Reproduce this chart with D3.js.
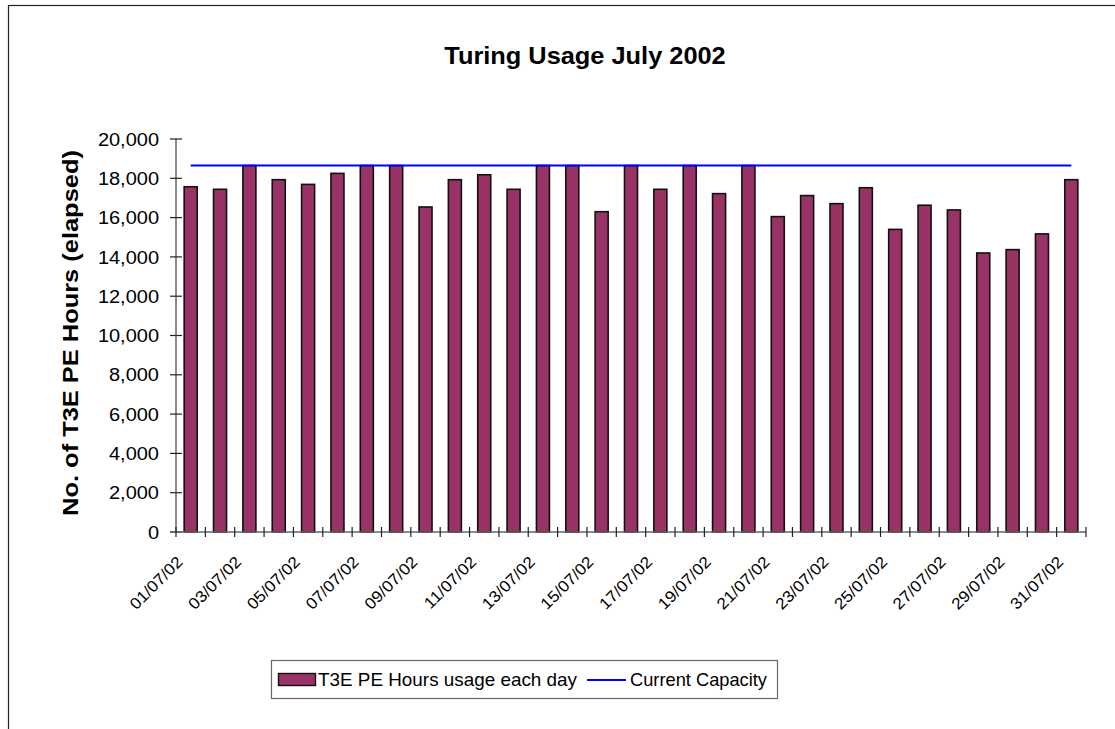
<!DOCTYPE html>
<html>
<head>
<meta charset="utf-8">
<script src="https://cdn.jsdelivr.net/npm/d3@7"></script>
<style>
  html, body { margin: 0; padding: 0; background: #fff; }
  svg { display: block; font-family: "Liberation Sans", Arial, Helvetica, sans-serif; }
</style>
</head>
<body>
<svg id="chart" width="1115" height="729"></svg>
<script>
// ---- data ----
const titleText = "Turing Usage July 2002";
const yLabelText = "No. of T3E PE Hours (elapsed)";
const seriesBarName = "T3E PE Hours usage each day";
const seriesLineName = "Current Capacity";
const dates = ["01/07/02","02/07/02","03/07/02","04/07/02","05/07/02","06/07/02","07/07/02","08/07/02",
  "09/07/02","10/07/02","11/07/02","12/07/02","13/07/02","14/07/02","15/07/02","16/07/02",
  "17/07/02","18/07/02","19/07/02","20/07/02","21/07/02","22/07/02","23/07/02","24/07/02",
  "25/07/02","26/07/02","27/07/02","28/07/02","29/07/02","30/07/02","31/07/02"];
const usage = [17570, 17440, 18650, 17930, 17690, 18250, 18650, 18650,
  16540, 17930, 18180, 17440, 18650, 18650, 16300, 18650,
  17440, 18650, 17220, 18650, 16050, 17120, 16710, 17520,
  15400, 16630, 16390, 14200, 14370, 15170, 17930];
const capacity = 18650;
const yTicks = [0, 2000, 4000, 6000, 8000, 10000, 12000, 14000, 16000, 18000, 20000];
const xLabelDates = ["01/07/02","03/07/02","05/07/02","07/07/02","09/07/02","11/07/02","13/07/02","15/07/02",
  "17/07/02","19/07/02","21/07/02","23/07/02","25/07/02","27/07/02","29/07/02","31/07/02"];

// ---- layout ----
const svg = d3.select("#chart");
const plot = { left: 176, right: 1086, top: 139, bottom: 532 };
const barColor = "#993366";
const lineColor = "#0000ff";
const sx = 1.08; // horizontal glyph stretch of the reference's font

// outer chart border
svg.append("rect").attr("x", 8.5).attr("y", 5.5).attr("width", 1300).attr("height", 900)
  .attr("fill", "none").attr("stroke", "#222").attr("stroke-width", 1.2);

const x = d3.scaleBand().domain(dates).range([plot.left, plot.right])
  .paddingInner(0.557).paddingOuter(0.2785);
const y = d3.scaleLinear().domain([0, 20000]).range([plot.bottom, plot.top]);
const cx = d => x(d) + x.bandwidth() / 2;

// title
svg.append("g").attr("transform", `translate(585,64) scale(${sx},1)`)
  .append("text").attr("text-anchor", "middle").attr("font-weight", "bold")
  .attr("font-size", 23.5).attr("fill", "#000").text(titleText);

// y axis label
svg.append("g").attr("transform", `translate(78,333) rotate(-90) scale(1.13,1)`)
  .append("text").attr("text-anchor", "middle").attr("font-weight", "bold")
  .attr("font-size", 22.5).attr("fill", "#000").text(yLabelText);

// bars
svg.append("g").selectAll("rect").data(dates).join("rect")
  .attr("x", d => x(d))
  .attr("y", (d, i) => y(usage[i]))
  .attr("width", x.bandwidth())
  .attr("height", (d, i) => y(0) - y(usage[i]))
  .attr("fill", barColor).attr("stroke", "#111").attr("stroke-width", 1.6);

// capacity line
const lineData = [dates[0], dates[dates.length - 1]];
svg.append("path")
  .attr("d", d3.line().x(d => cx(d)).y(() => y(capacity))(lineData))
  .attr("fill", "none").attr("stroke", lineColor).attr("stroke-width", 2);

// y axis
const yAxis = svg.append("g").attr("transform", `translate(${plot.left},0)`);
yAxis.append("line").attr("x1", 0).attr("x2", 0).attr("y1", y(20000)).attr("y2", y(0))
  .attr("stroke", "#666").attr("stroke-width", 1.5);
yAxis.selectAll("line.tick").data(yTicks).join("line").attr("class", "tick")
  .attr("x1", -6).attr("x2", 6).attr("y1", d => y(d)).attr("y2", d => y(d))
  .attr("stroke", "#222").attr("stroke-width", 1.2);
yAxis.selectAll("g.lab").data(yTicks).join("g").attr("class", "lab")
  .attr("transform", d => `translate(-17,${y(d)}) scale(${sx},1)`)
  .append("text").attr("text-anchor", "end").attr("dy", "0.36em")
  .attr("font-size", 18.5).attr("fill", "#000").text(d => d3.format(",")(d));

// x axis
const xAxis = svg.append("g").attr("transform", `translate(0,${plot.bottom})`);
xAxis.append("line").attr("x1", plot.left - 6).attr("x2", plot.right).attr("y1", 0).attr("y2", 0)
  .attr("stroke", "#666").attr("stroke-width", 1.5);
const boundaries = dates.map(d => x(d) - x.step() * x.paddingInner() / 2).concat([plot.right]);
xAxis.selectAll("line.tick").data(boundaries).join("line").attr("class", "tick")
  .attr("x1", d => d).attr("x2", d => d).attr("y1", -5).attr("y2", 5)
  .attr("stroke", "#222").attr("stroke-width", 1.2);
xAxis.selectAll("g.lab").data(xLabelDates).join("g").attr("class", "lab")
  .attr("transform", d => `translate(${cx(d) - 7},31) rotate(-45) scale(${sx},1)`)
  .append("text").attr("text-anchor", "end")
  .attr("font-size", 16).attr("fill", "#000").text(d => d);

// legend
const lg = svg.append("g");
lg.append("rect").attr("x", 271.5).attr("y", 660.5).attr("width", 506).attr("height", 38)
  .attr("fill", "#fff").attr("stroke", "#666").attr("stroke-width", 1.2);
lg.append("rect").attr("x", 278.5).attr("y", 673.5).attr("width", 37).attr("height", 12)
  .attr("fill", barColor).attr("stroke", "#111").attr("stroke-width", 1.4);
lg.append("text").attr("x", 318).attr("y", 686).attr("font-size", 19).attr("fill", "#000")
  .attr("textLength", 259).attr("lengthAdjust", "spacingAndGlyphs").text(seriesBarName);
lg.append("line").attr("x1", 587).attr("x2", 626).attr("y1", 680).attr("y2", 680)
  .attr("stroke", lineColor).attr("stroke-width", 2);
lg.append("text").attr("x", 630).attr("y", 686).attr("font-size", 19).attr("fill", "#000")
  .attr("textLength", 137).attr("lengthAdjust", "spacingAndGlyphs").text(seriesLineName);
</script>
</body>
</html>
